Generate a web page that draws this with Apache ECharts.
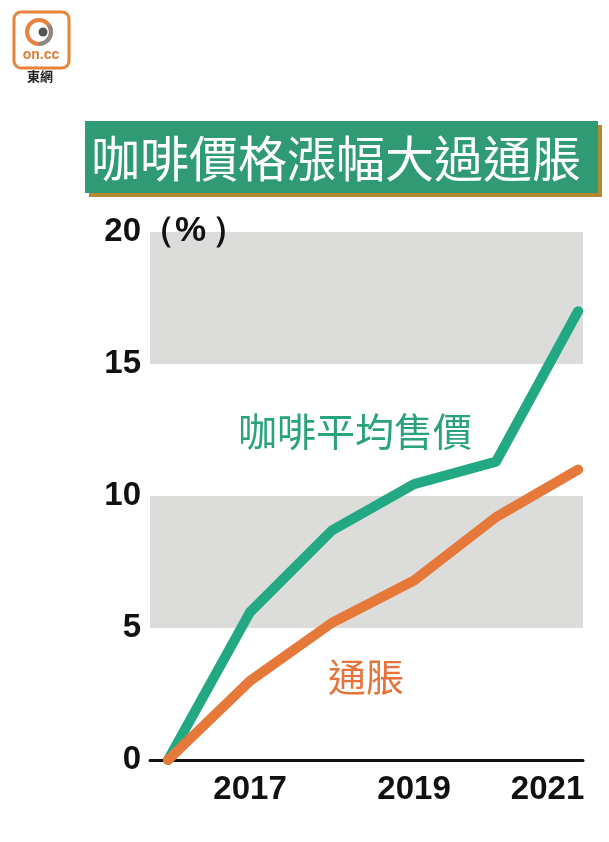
<!DOCTYPE html>
<html>
<head>
<meta charset="utf-8">
<script src="https://cdn.jsdelivr.net/npm/echarts@6/dist/echarts.min.js"></script>
<style>
html,body{margin:0;padding:0;background:#fff;}
#c{width:609px;height:842px;}
</style>
</head>
<body>
<div id="c"></div>
<script>
// Data
const years = [2016, 2017, 2018, 2019, 2020, 2021];
const coffeePrice = [0, 5.6, 8.7, 10.45, 11.3, 17.0];
const inflation = [0, 3.0, 5.2, 6.8, 9.2, 11.0];
const xTickLabels = [2017, 2019, 2021];
const titleText = '咖啡價格漲幅大過通脹';
const coffeeName = '咖啡平均售價';
const inflationName = '通脹';
const unitOpen = '（%';
const unitClose = '）';

const NUM_FONT = "'Liberation Sans', Arial, sans-serif";
const CJK_FONT = "'Noto Sans CJK TC', 'Noto Sans CJK SC', sans-serif";
const GREEN = '#22a983';
const ORANGE = '#e6783a';
const NUM_SIZE = 33;

const chart = echarts.init(document.getElementById('c'), null, {renderer: 'canvas'});

const option = {
  backgroundColor: '#ffffff',
  animation: false,
  grid: {left: 150, right: 26, top: 232, bottom: 82, containLabel: false},
  xAxis: {
    type: 'value',
    min: 2015.78,
    max: 2021.06,
    axisLine: {show: true, onZero: false, lineStyle: {color: '#111', width: 3}},
    axisTick: {show: false},
    splitLine: {show: false},
    axisLabel: {
      customValues: xTickLabels,
      margin: 13,
      color: '#111',
      fontFamily: NUM_FONT,
      fontWeight: 'bold',
      fontSize: NUM_SIZE,
      formatter: function (v) {
        return v === 2021 ? '{r|' + v + '}' : '{n|' + v + '}';
      },
      rich: {
        n: {fontFamily: NUM_FONT, fontWeight: 'bold', fontSize: NUM_SIZE, color: '#111'},
        r: {fontFamily: NUM_FONT, fontWeight: 'bold', fontSize: NUM_SIZE, color: '#111', padding: [0, 61, 0, 0]}
      }
    }
  },
  yAxis: {
    type: 'value',
    min: 0,
    max: 20,
    interval: 5,
    axisLine: {show: false},
    axisTick: {show: false},
    splitLine: {show: false},
    splitArea: {show: true, areaStyle: {color: ['rgba(255,255,255,0)', '#dcdddb']}},
    axisLabel: {
      margin: 9,
      color: '#111',
      fontFamily: NUM_FONT,
      fontWeight: 'bold',
      fontSize: NUM_SIZE
    }
  },
  series: [
    {
      name: coffeeName,
      type: 'line',
      data: years.map((y, i) => [y, coffeePrice[i]]),
      showSymbol: false,
      symbol: 'none',
      lineStyle: {color: GREEN, width: 10, cap: 'round', join: 'round'},
      z: 3
    },
    {
      name: inflationName,
      type: 'line',
      data: years.map((y, i) => [y, inflation[i]]),
      showSymbol: false,
      symbol: 'none',
      lineStyle: {color: ORANGE, width: 10, cap: 'round', join: 'round'},
      z: 4
    }
  ],
  graphic: [
    // Logo
    {type: 'rect', shape: {x: 14, y: 12, width: 55, height: 56, r: 7},
     style: {fill: '#fff', stroke: '#e9823b', lineWidth: 3}},
    {type: 'circle', shape: {cx: 39, cy: 32, r: 12},
     style: {fill: 'none', stroke: '#e9823b', lineWidth: 4}},
    {type: 'arc', shape: {cx: 39, cy: 32, r: 12, startAngle: -0.6, endAngle: 1.6},
     style: {fill: 'none', stroke: '#8a8a8a', lineWidth: 4}},
    {type: 'circle', shape: {cx: 43, cy: 32, r: 4.5}, style: {fill: '#555'}},
    {type: 'text', x: 41, y: 55, style: {text: 'on.cc', fill: '#e07a35', font: 'bold 14px ' + NUM_FONT, textAlign: 'center', textVerticalAlign: 'middle'}},
    {type: 'text', x: 40, y: 76, style: {text: '東網', fill: '#222', font: 'bold 13px ' + CJK_FONT, textAlign: 'center', textVerticalAlign: 'middle'}},
    // Title box
    {type: 'rect', shape: {x: 89, y: 125, width: 513, height: 72}, style: {fill: '#b5892e'}},
    {type: 'rect', shape: {x: 85, y: 121, width: 513, height: 72}, style: {fill: '#2f9a74'}},
    {type: 'text', x: 91, y: 158, style: {text: titleText, fill: '#ffffff', font: '49px ' + CJK_FONT, textAlign: 'left', textVerticalAlign: 'middle'}},
    // Unit label
    {type: 'text', x: 140, y: 231, z: 10, style: {text: unitOpen, fill: '#111', font: 'bold 35px ' + NUM_FONT, textAlign: 'left', textVerticalAlign: 'middle'}},
    {type: 'text', x: 212, y: 231, z: 10, style: {text: unitClose, fill: '#111', font: 'bold 35px ' + NUM_FONT, textAlign: 'left', textVerticalAlign: 'middle'}},
    // Series labels
    {type: 'text', x: 238, y: 431, z: 10, style: {text: coffeeName, fill: '#2aa27e', font: '39px ' + CJK_FONT, textAlign: 'left', textVerticalAlign: 'middle'}},
    {type: 'text', x: 328, y: 677, z: 10, style: {text: inflationName, fill: '#e6743a', font: '38px ' + CJK_FONT, textAlign: 'left', textVerticalAlign: 'middle'}}
  ]
};
chart.setOption(option);
</script>
</body>
</html>
